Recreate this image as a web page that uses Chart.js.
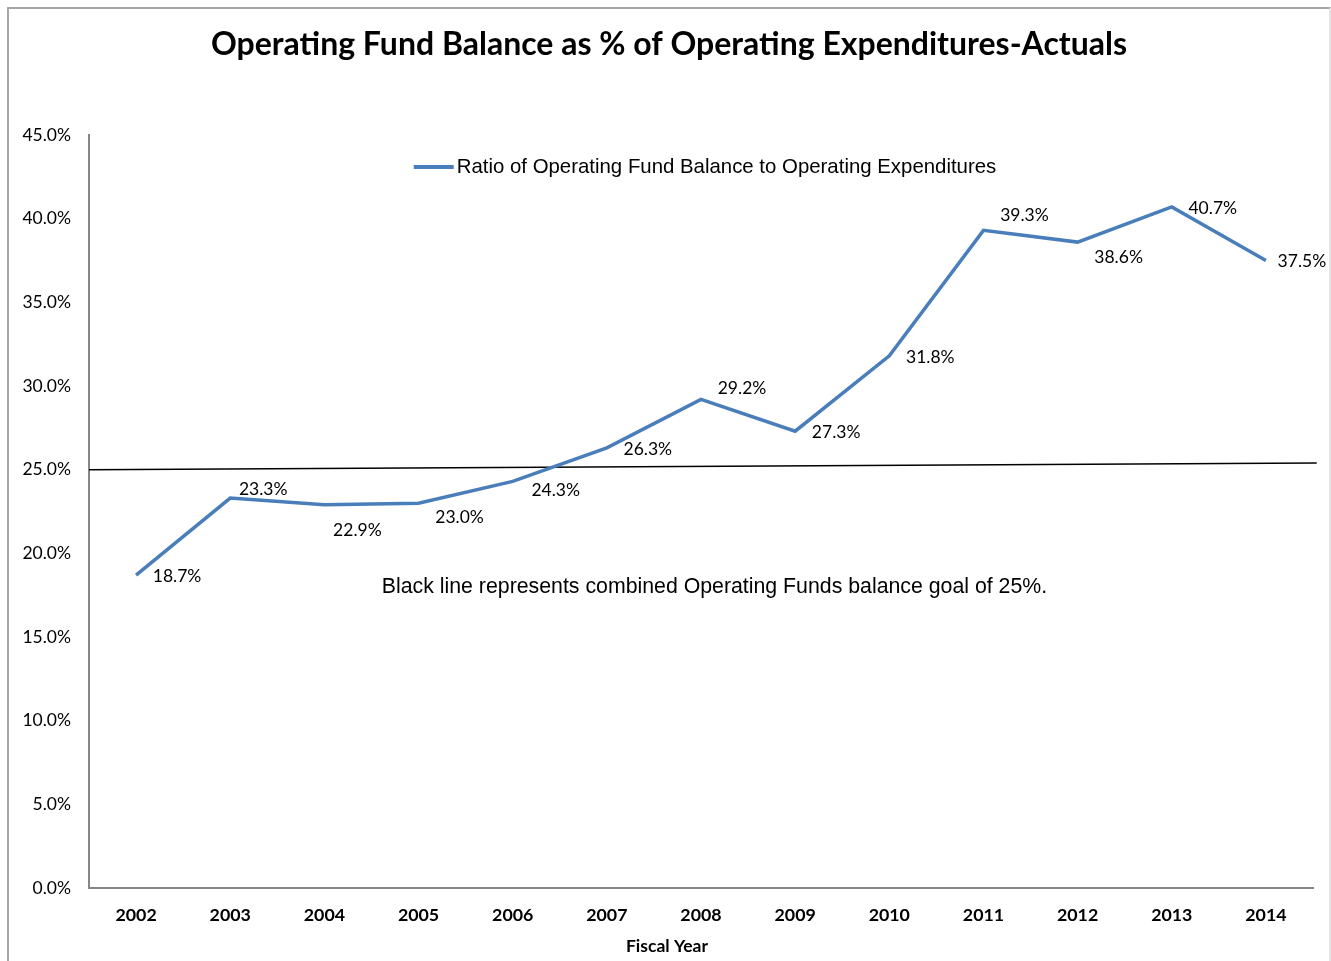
<!DOCTYPE html>
<html lang="en">
<head>
  <meta charset="UTF-8" />
  <title>Operating Fund Balance as % of Operating Expenditures-Actuals</title>
  <script src="https://cdn.jsdelivr.net/npm/chart.js"></script>
  <style>
    body {
      margin: 0;
      background: #ffffff;
      overflow: hidden;
    }

    .frame {
      position: absolute;
      left: 7px;
      top: 7px;
      width: 1320px;
      height: 960px;
      border-left: 2px solid #a6a6a6;
      border-top: 2px solid #a6a6a6;
      border-right: 2px solid #e4e4e4;
    }

    canvas {
      display: block;
    }
  </style>
</head>
<body>
  <div class="frame">
    <canvas id="fundChart" width="1320" height="952"></canvas>
  </div>

  <script>
    // data
    const years = ['2002', '2003', '2004', '2005', '2006', '2007', '2008', '2009', '2010', '2011', '2012', '2013', '2014'];
    const ratios = [18.7, 23.3, 22.9, 23.0, 24.3, 26.3, 29.2, 27.3, 31.8, 39.3, 38.6, 40.7, 37.5];
    const goalLine = [25.0, 25.4];      // start / end of the drawn goal line
    const yTicks = [0, 5, 10, 15, 20, 25, 30, 35, 40, 45];

    const seriesName = 'Ratio of Operating Fund Balance to Operating Expenditures';
    const note = 'Black line represents combined Operating Funds balance goal of 25%.';

    // where each value label sits relative to its point (px)
    const labelOffsets = [
      [41, 1], [33, -9], [33, 26], [41, 14], [43, 9], [41, 1], [41, -11],
      [41, 1], [41, 1], [41, -15], [41, 15], [41, 1], [36, 1]
    ];

    const calibri = 'Lato, "Open Sans", sans-serif';
    const arial = '"Liberation Sans", Arial, sans-serif';

    // legend, note, value labels and axis title drawn by hand
    const extras = {
      id: 'extras',
      afterDatasetsDraw(chart) {
        const c = chart.ctx;
        const area = chart.chartArea;
        const meta = chart.getDatasetMeta(0);

        c.save();
        c.fillStyle = '#000';
        c.textBaseline = 'middle';

        // value labels
        c.font = '17.5px ' + calibri;
        c.textAlign = 'center';
        meta.data.forEach((pt, i) => {
          const off = labelOffsets[i];
          c.fillText(ratios[i].toFixed(1) + '%', pt.x + off[0], pt.y + off[1]);
        });

        // legend
        c.font = '20.4px ' + arial;
        c.textAlign = 'left';
        const tw = c.measureText(seriesName).width;
        const total = 40 + 3 + tw;
        const lx = (area.left + area.right) / 2 + 4 - total / 2;
        const ly = area.top + 32;
        c.strokeStyle = '#4a7ebb';
        c.lineWidth = 4;
        c.beginPath();
        c.moveTo(lx, ly);
        c.lineTo(lx + 40, ly);
        c.stroke();
        c.fillText(seriesName, lx + 43, ly);

        // note under the line
        c.font = '21.3px ' + arial;
        c.textAlign = 'center';
        const nx = chart.scales.x2.getPixelForValue(0.511);
        const ny = chart.scales.y.getPixelForValue(18);
        c.fillText(note, nx, ny);

        // x axis title, centred on the whole chart
        c.font = 'bold 17.5px ' + calibri;
        c.fillText('Fiscal Year', chart.width / 2 - 2, area.bottom + 58);
        c.restore();
      }
    };

    const ctx = document.getElementById('fundChart').getContext('2d');

    new Chart(ctx, {
      type: 'line',
      data: {
        labels: years,
        datasets: [{
          label: seriesName,
          data: ratios,
          borderColor: '#4a7ebb',
          borderWidth: 3.5,
          pointRadius: 0,
          tension: 0,
          xAxisID: 'x',
          yAxisID: 'y'
        }, {
          label: 'Goal',
          data: [{ x: 0, y: goalLine[0] }, { x: 1.003, y: goalLine[1] }],
          borderColor: '#000000',
          borderWidth: 1.5,
          pointRadius: 0,
          clip: false,
          xAxisID: 'x2',
          yAxisID: 'y'
        }]
      },
      options: {
        responsive: false,
        animation: false,
        layout: {
          padding: 0
        },
        plugins: {
          legend: { display: false },
          tooltip: { enabled: false },
          title: {
            display: true,
            text: 'Operating Fund Balance as % of Operating Expenditures-Actuals',
            color: '#000',
            font: { family: calibri, size: 32, weight: 'bold', lineHeight: 1.2 },
            padding: { top: 16.8, bottom: 70.8 }
          }
        },
        scales: {
          x: {
            type: 'category',
            offset: true,
            grid: { display: false, drawTicks: false },
            border: { color: '#868686', width: 2 },
            ticks: {
              color: '#000',
              padding: 17,
              maxRotation: 0,
              font: { family: calibri, size: 17.8, weight: 'bold' }
            },
            afterFit(scale) { scale.height = 73; }
          },
          x2: {
            type: 'linear',
            display: false,
            min: 0,
            max: 1
          },
          y: {
            min: 0,
            max: 45,
            grid: { display: false, drawTicks: false },
            border: { color: '#868686', width: 2 },
            afterBuildTicks(scale) {
              scale.ticks = yTicks.map(v => ({ value: v }));
            },
            ticks: {
              color: '#000',
              padding: 18,
              font: { family: calibri, size: 17.5 },
              callback: v => v.toFixed(1) + '%'
            },
            afterFit(scale) { scale.width = 80; }
          },
          // empty strip on the right so the title centres on the whole chart
          yRight: {
            position: 'right',
            min: 0,
            max: 1,
            grid: { display: false, drawTicks: false },
            border: { display: false },
            ticks: { display: false },
            afterFit(scale) { scale.width = 16; }
          }
        }
      },
      plugins: [extras]
    });
  </script>
</body>
</html>
